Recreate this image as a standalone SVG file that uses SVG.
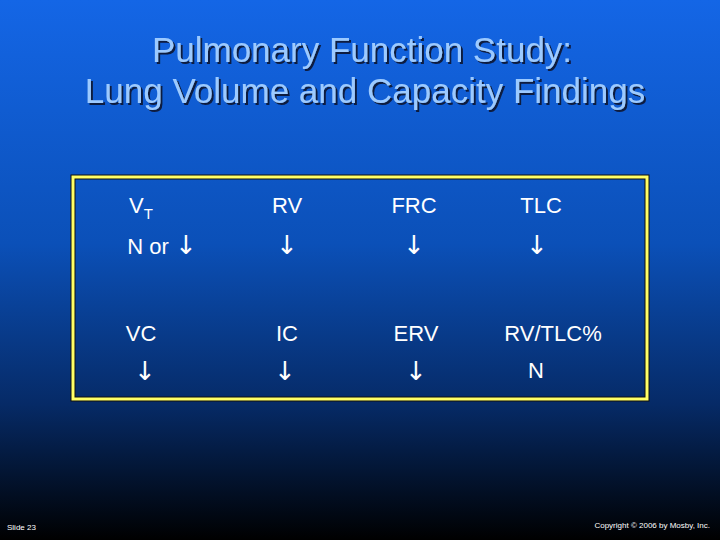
<svg xmlns="http://www.w3.org/2000/svg" width="720" height="540" viewBox="0 0 720 540">
<defs>
<linearGradient id="bg" x1="0" y1="0" x2="0" y2="1">
<stop offset="0" stop-color="#1466e6"/>
<stop offset="0.45" stop-color="#0b50b8"/>
<stop offset="0.75" stop-color="#062a66"/>
<stop offset="1" stop-color="#000000"/>
</linearGradient>
<filter id="sh" x="-5%" y="-20%" width="110%" height="140%">
<feDropShadow dx="2" dy="2" stdDeviation="0" flood-color="#0a1a40"/>
</filter>
<style>
.t{font-family:"Liberation Sans",Arial,sans-serif;font-size:35px;fill:#9ccaff}
.c{font-family:"Liberation Sans",Arial,sans-serif;font-size:22px;fill:#ffffff;text-anchor:middle}
.a{font-family:"DejaVu Sans",sans-serif;font-size:26px;fill:#ffffff;text-anchor:middle}
.f{font-family:"Liberation Sans",Arial,sans-serif;font-size:8px;fill:#ffffff}
</style>
</defs>
<rect width="720" height="540" fill="url(#bg)"/>
<g id="title" text-anchor="middle" filter="url(#sh)">
<text class="t" x="362" y="62">Pulmonary Function Study:</text>
<text class="t" x="365" y="103">Lung Volume and Capacity Findings</text>
</g>
<g id="table">
<rect x="73" y="177" width="574" height="222" fill="none" stroke="#111" stroke-width="5"/>
<rect x="73" y="177" width="574" height="222" fill="none" stroke="#ffff66" stroke-width="3"/>
<text class="c" x="141" y="213">V<tspan font-size="15" dy="6">T</tspan></text>
<text class="c" x="287" y="213">RV</text>
<text class="c" x="414" y="213">FRC</text>
<text class="c" x="541" y="213">TLC</text>
<text class="c" x="148" y="254">N or</text>
<text class="a" x="186" y="254">↓</text>
<text class="a" x="287" y="254">↓</text>
<text class="a" x="414" y="254">↓</text>
<text class="a" x="537" y="254">↓</text>
<text class="c" x="141" y="341">VC</text>
<text class="c" x="287" y="341">IC</text>
<text class="c" x="416" y="341">ERV</text>
<text class="c" x="553" y="341">RV/TLC%</text>
<text class="a" x="145" y="380">↓</text>
<text class="a" x="285" y="380">↓</text>
<text class="a" x="416" y="380">↓</text>
<text class="c" x="536" y="378" font-size="20">N</text>
</g>
<text class="f" x="7" y="530">Slide 23</text>
<text class="f" x="710" y="528" text-anchor="end">Copyright © 2006 by Mosby, Inc.</text>
</svg>
